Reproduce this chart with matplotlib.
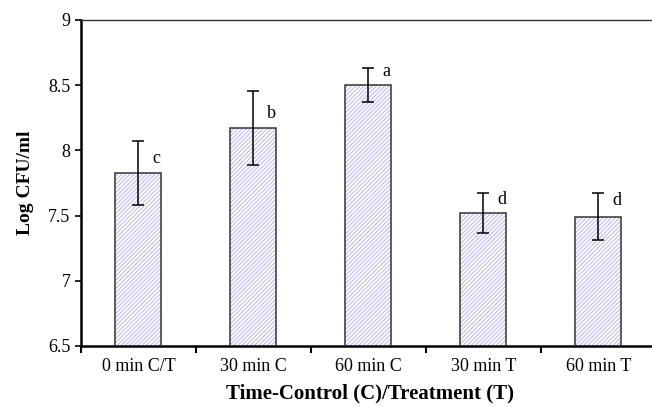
import matplotlib
matplotlib.use("Agg")
import matplotlib.pyplot as plt
import numpy as np

plt.rcParams["font.family"] = ["Liberation Serif", "DejaVu Serif"]
plt.rcParams["hatch.linewidth"] = 0.6

groups = ["0 min C/T", "30 min C", "60 min C", "30 min T", "60 min T"]
means = [7.83, 8.17, 8.50, 7.52, 7.49]
errors = [0.245, 0.285, 0.13, 0.155, 0.18]
letters = ["c", "b", "a", "d", "d"]
# vertical nudge of each letter (points) from the top of its error bar
letter_nudge = [-13, -16, -2, -5, -5]

fig = plt.figure(figsize=(6.52, 4.07), dpi=100)
ax = fig.add_axes([0.1242, 0.1499, 0.8743, 0.801])

x = np.arange(len(groups))
ax.bar(x, means, width=0.4, color="white", edgecolor="#aaaaea",
       hatch="////////", linewidth=0, zorder=2)
ax.bar(x, means, width=0.4, color="none", edgecolor="#333333",
       linewidth=1.1, zorder=3)
ax.errorbar(x, means, yerr=errors, fmt="none", ecolor="black",
            elinewidth=1.1, capsize=4, capthick=1.1, zorder=4)

for xi, m, e, lab, dy in zip(x, means, errors, letters, letter_nudge):
    ax.annotate(lab, (xi, m + e), xytext=(13, dy), textcoords="offset points",
                ha="center", va="center", fontsize=13)

ax.set_ylim(6.5, 9)
ax.set_xlim(-0.5, 4.457)
ax.set_yticks(np.arange(6.5, 9.01, 0.5))
ax.set_yticklabels(["6.5", "7", "7.5", "8", "8.5", "9"])
ax.set_xticks(np.arange(-0.5, 4.0, 1.0))
ax.set_xticklabels([])
ax.set_xticks(x, minor=True)
ax.set_xticklabels(groups, minor=True)
ax.tick_params(axis="x", which="minor", length=0, pad=9, labelsize=13)
ax.tick_params(axis="x", which="major", length=5, width=1.5, direction="out")
ax.tick_params(axis="y", length=4.5, width=1.2, direction="out", labelsize=13, pad=3)

ax.spines["right"].set_visible(False)
ax.spines["left"].set_linewidth(1.8)
ax.spines["bottom"].set_linewidth(1.8)
ax.spines["top"].set_linewidth(1.0)
ax.spines["top"].set_color("#333333")

ax.set_xlabel("Time-Control (C)/Treatment (T)", fontsize=15, fontweight="bold")
ax.xaxis.set_label_coords(0.507, -0.115)
ax.set_ylabel("Log CFU/ml", fontsize=14, fontweight="bold", labelpad=10)

fig.savefig("out.png", dpi=100)
